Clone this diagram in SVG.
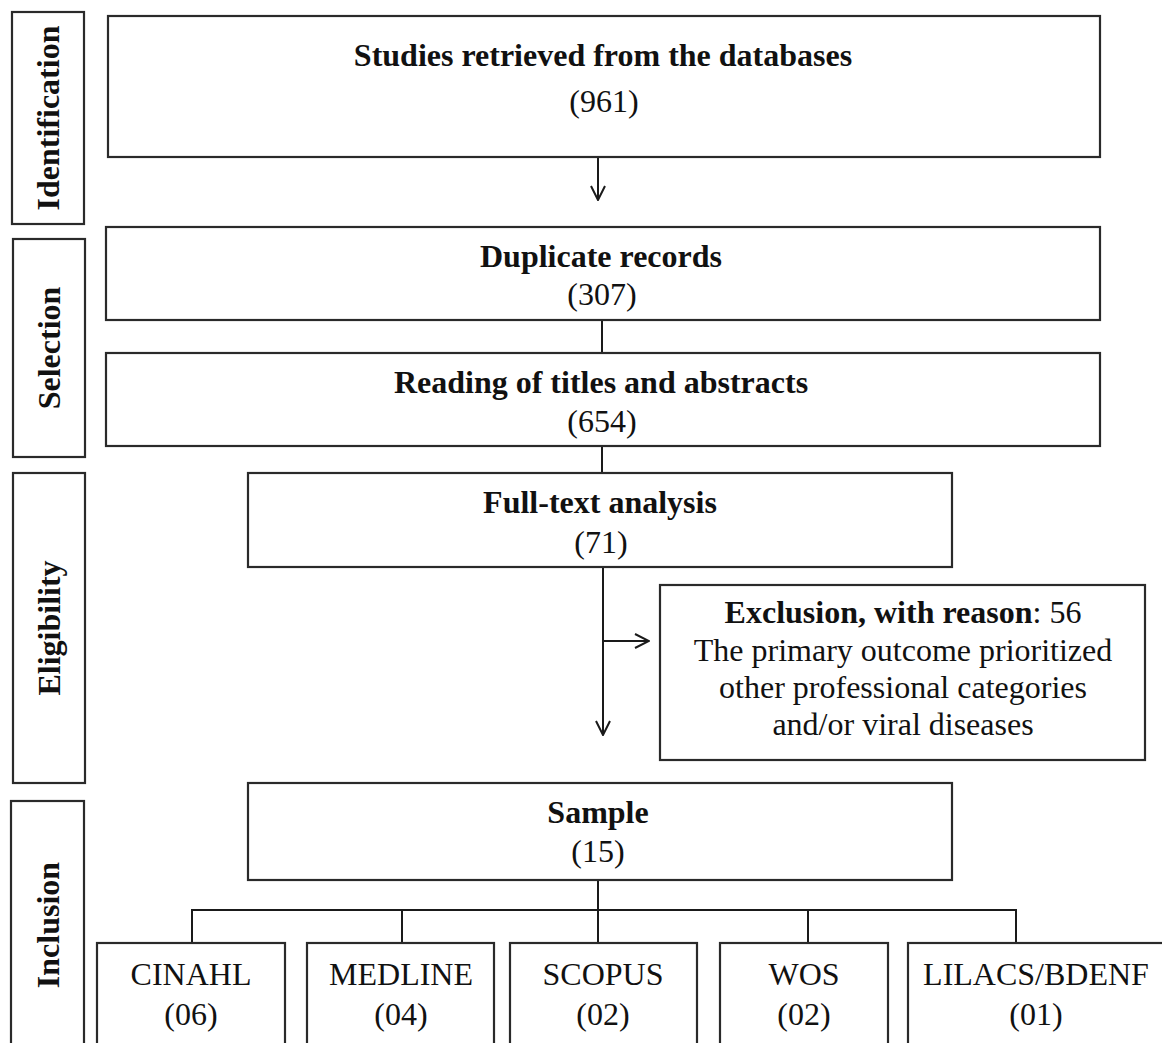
<svg xmlns="http://www.w3.org/2000/svg" width="1162" height="1043" viewBox="0 0 1162 1043">
<defs>
<marker id="v" viewBox="0 0 16 16" refX="15" refY="8" markerWidth="16" markerHeight="16" markerUnits="userSpaceOnUse" orient="auto">
<path d="M1,1 L15,8 L1,15" fill="none" stroke="#1a1a1a" stroke-width="2"/>
</marker>
</defs>
<style>
rect{fill:#fff;stroke:#2a2a2a;stroke-width:2.2}
text{font-family:"Liberation Serif","Times New Roman",serif;fill:#111;text-anchor:middle}
.b{font-weight:bold}
.t{font-size:32px}
.l{font-size:32px;font-weight:bold}
line,polyline{stroke:#1a1a1a;stroke-width:2;fill:none}
</style>
<rect width="1162" height="1043" style="fill:#fff;stroke:none"/>
<g id="label-identification"><rect x="12" y="12" width="72" height="212"/><text class="l" transform="translate(59,118) rotate(-90)">Identification</text></g>
<g id="label-selection"><rect x="13" y="239" width="72" height="218"/><text class="l" transform="translate(60,348) rotate(-90)">Selection</text></g>
<g id="label-eligibility"><rect x="13" y="473" width="72" height="310"/><text class="l" transform="translate(60,628) rotate(-90)">Eligibility</text></g>
<g id="label-inclusion"><rect x="11" y="801" width="73" height="260"/><text class="l" transform="translate(59,925) rotate(-90)">Inclusion</text></g>
<g id="connectors">
<line x1="598" y1="157" x2="598" y2="200" marker-end="url(#v)"/>
<line x1="602" y1="320" x2="602" y2="353"/>
<line x1="602" y1="446" x2="602" y2="473"/>
<line x1="603" y1="567" x2="603" y2="735" marker-end="url(#v)"/>
<line x1="603" y1="641" x2="649" y2="641" marker-end="url(#v)"/>
<line x1="598" y1="880" x2="598" y2="943"/>
<polyline points="192,943 192,910 1016,910 1016,943"/>
<line x1="402" y1="910" x2="402" y2="943"/>
<line x1="808" y1="910" x2="808" y2="943"/>
</g>
<g id="node-studies"><rect x="108" y="16" width="992" height="141"/><text class="t b" x="603" y="66">Studies retrieved from the databases</text><text class="t" x="604" y="112">(961)</text></g>
<g id="node-duplicate"><rect x="106" y="227" width="994" height="93"/><text class="t b" x="601" y="267">Duplicate records</text><text class="t" x="602" y="305">(307)</text></g>
<g id="node-reading"><rect x="106" y="353" width="994" height="93"/><text class="t b" x="601" y="393">Reading of titles and abstracts</text><text class="t" x="602" y="432">(654)</text></g>
<g id="node-fulltext"><rect x="248" y="473" width="704" height="94"/><text class="t b" x="600" y="513">Full-text analysis</text><text class="t" x="601" y="553">(71)</text></g>
<g id="node-exclusion"><rect x="660" y="585" width="485" height="175"/><text class="t" x="903" y="623"><tspan class="b">Exclusion, with reason</tspan>: 56</text><text class="t" x="903" y="661">The primary outcome prioritized</text><text class="t" x="903" y="698">other professional categories</text><text class="t" x="903" y="735">and/or viral diseases</text></g>
<g id="node-sample"><rect x="248" y="783" width="704" height="97"/><text class="t b" x="598" y="823">Sample</text><text class="t" x="598" y="862">(15)</text></g>
<g id="node-cinahl"><rect x="97" y="943" width="188" height="120"/><text class="t" x="191" y="985">CINAHL</text><text class="t" x="191" y="1025">(06)</text></g>
<g id="node-medline"><rect x="307" y="943" width="187" height="120"/><text class="t" x="401" y="985">MEDLINE</text><text class="t" x="401" y="1025">(04)</text></g>
<g id="node-scopus"><rect x="510" y="943" width="187" height="120"/><text class="t" x="603" y="985">SCOPUS</text><text class="t" x="603" y="1025">(02)</text></g>
<g id="node-wos"><rect x="720" y="943" width="168" height="120"/><text class="t" x="804" y="985">WOS</text><text class="t" x="804" y="1025">(02)</text></g>
<g id="node-lilacs"><rect x="908" y="943" width="270" height="120"/><text class="t" x="1036" y="985">LILACS/BDENF</text><text class="t" x="1036" y="1025">(01)</text></g>
</svg>
